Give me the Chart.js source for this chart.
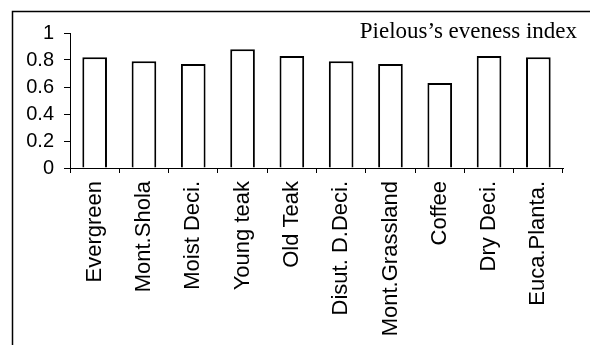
<!DOCTYPE html>
<html>
<head>
<meta charset="utf-8">
<script src="https://cdn.jsdelivr.net/npm/chart.js@4/dist/chart.umd.min.js"></script>
<style>
  html, body { margin: 0; padding: 0; background: #fff; }
  canvas { display: block; }
</style>
</head>
<body>
<canvas id="chart" width="590" height="345"></canvas>
<script>
// Pielou's evenness index per vegetation type
const categories = ['Evergreen', 'Mont.Shola', 'Moist Deci.', 'Young teak', 'Old Teak',
  'Disut. D.Deci.', 'Mont.Grassland', 'Coffee', 'Dry Deci.', 'Euca.Planta.'];
const evenness = [0.82, 0.79, 0.77, 0.88, 0.83, 0.79, 0.77, 0.63, 0.83, 0.82];
const chartTitle = 'Pielous\u2019s eveness index';
const yMin = 0, yMax = 1, yStep = 0.2;

// Outer frame (top and left edges) plus the title in the top-right corner
const framePlugin = {
  id: 'frame',
  afterDraw(chart) {
    const ctx = chart.ctx;
    ctx.save();
    ctx.strokeStyle = '#000';
    ctx.lineWidth = 1.5;
    ctx.beginPath();
    ctx.moveTo(12.5, chart.height);
    ctx.lineTo(12.5, 11.5);
    ctx.lineTo(chart.width, 11.5);
    ctx.stroke();
    ctx.fillStyle = '#000';
    ctx.font = '23px "Liberation Serif", "Times New Roman", serif';
    ctx.textAlign = 'right';
    ctx.textBaseline = 'alphabetic';
    ctx.fillText(chartTitle, 577, 38);
    ctx.restore();
  }
};

new Chart(document.getElementById('chart'), {
  type: 'bar',
  data: {
    labels: categories,
    datasets: [{
      data: evenness,
      backgroundColor: '#fff',
      borderColor: '#000',
      borderWidth: 2,
      barPercentage: 0.5,
      categoryPercentage: 1.0
    }]
  },
  options: {
    responsive: false,
    animation: false,
    layout: { padding: { top: 33, right: 27, left: 0, bottom: 0 } },
    plugins: { legend: { display: false }, tooltip: { enabled: false } },
    scales: {
      x: {
        grid: { display: true, drawOnChartArea: false, tickLength: 5, color: '#000', offset: true },
        border: { display: true, color: '#000', width: 1 },
        ticks: {
          autoSkip: false, minRotation: 90, maxRotation: 90, padding: 8,
          color: '#000', font: { family: '"Liberation Sans", Arial, sans-serif', size: 22 }
        },
        afterFit(scale) { scale.height = 177; }
      },
      y: {
        min: yMin, max: yMax,
        grid: { display: true, drawOnChartArea: false, tickLength: 6, color: '#000' },
        border: { display: true, color: '#000', width: 1 },
        ticks: {
          stepSize: yStep, autoSkip: false, padding: 10,
          color: '#000', font: { family: '"Liberation Sans", Arial, sans-serif', size: 20 },
          callback: (v) => String(Number(v.toFixed(1)))
        },
        afterFit(scale) { scale.width = 70; }
      }
    }
  },
  plugins: [framePlugin]
});
</script>
</body>
</html>
